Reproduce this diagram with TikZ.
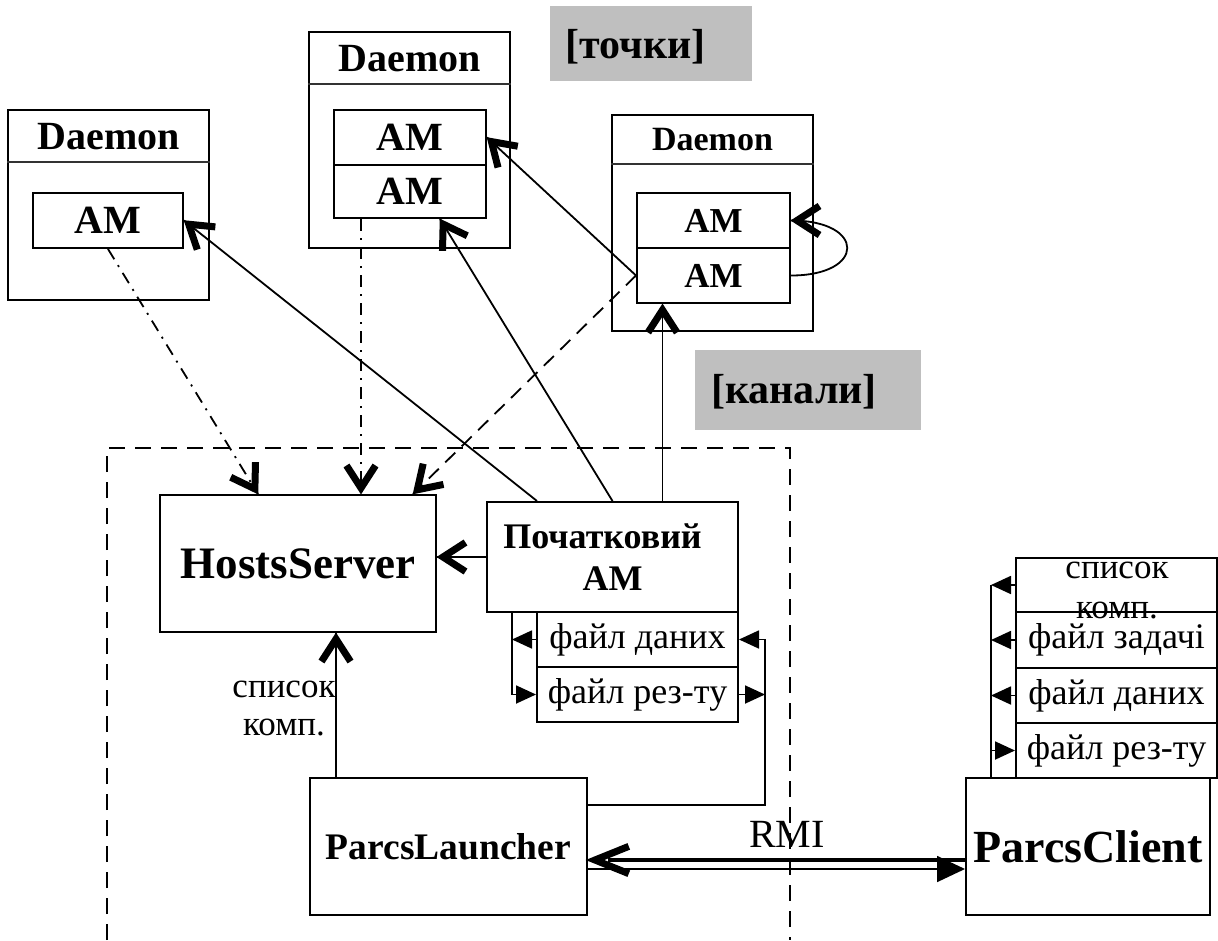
\documentclass[tikz,border=0pt]{standalone}
\usepackage{fontspec}
\setmainfont{Liberation Serif}
\usetikzlibrary{arrows.meta,calc}

% thick open V head: #1 = a point behind the head, #2 = the tip
\newcommand{\drawV}[2]{%
  \draw[vstroke] ($(#2)!32pt!27:(#1)$) -- ($(#2)!6pt!(#1)$) -- ($(#2)!32pt!-27:(#1)$);}
\newcommand{\drawVlong}[2]{%
  \draw[vstroke] ($(#2)!43pt!18.5:(#1)$) -- ($(#2)!7pt!(#1)$) -- ($(#2)!43pt!-18.5:(#1)$);}

\begin{document}
\begin{tikzpicture}[x=1pt,y=-1pt,
  box/.style={draw,line width=2pt,inner sep=0pt,align=center},
  bfz/.style={font=\fontsize{#1}{#1}\selectfont\bfseries},
  rmz/.style={font=\fontsize{#1}{#1}\selectfont},
  hdr/.style={line width=1.5pt,black!80},
  conn/.style={line width=1.8pt},
  dsh/.style={line width=1.8pt,dash pattern=on 14pt off 9pt},
  ddot/.style={line width=1.8pt,dash pattern=on 12pt off 7pt on 2pt off 7pt},
  frame/.style={line width=1.8pt,dash pattern=on 16pt off 10pt},
  tag/.style={fill=black!25,inner sep=0pt},
  vstroke/.style={line width=7pt,miter limit=10,solid},
  fillT/.tip={Triangle[length=20pt,width=18pt]},
  bigT/.tip={Triangle[length=28pt,width=26pt]}]

\useasboundingbox (0,0) rectangle (1218,940);

% ---- daemons -------------------------------------------------------
\node[box,minimum width=201pt,minimum height=190pt] (dL) at (108.5,205) {};
\node[bfz=40pt] (dLt) at (108.5,137) {Daemon};
\draw[hdr] ([yshift=-53pt]dL.north west) -- ([yshift=-53pt]dL.north east);
\node[box,bfz=40pt,minimum width=150pt,minimum height=55pt] (amL) at (108,220.5) {AM};

\node[box,minimum width=201pt,minimum height=216pt] (dM) at (409.5,140) {};
\node[bfz=40pt] (dMt) at (409.5,59) {Daemon};
\draw[hdr] ([yshift=-53pt]dM.north west) -- ([yshift=-53pt]dM.north east);
\node[box,bfz=40pt,minimum width=152pt,minimum height=55pt] (amM1) at (410,137.5) {AM};
\node[box,bfz=40pt,minimum width=152pt,minimum height=53pt] (amM2) at (410,191.5) {AM};

\node[box,minimum width=201pt,minimum height=216pt] (dR) at (712.5,223) {};
\node[bfz=34pt] (dRt) at (712.5,140) {Daemon};
\draw[hdr] ([yshift=-50pt]dR.north west) -- ([yshift=-50pt]dR.north east);
\node[box,bfz=35pt,minimum width=153pt,minimum height=55pt] (amR1) at (713.5,220.5) {AM};
\node[box,bfz=35pt,minimum width=153pt,minimum height=55pt] (amR2) at (713.5,275.5) {AM};

% ---- grey tags -------------------------------------------------------
\node[tag,minimum width=202pt,minimum height=75pt] (tpts) at (651,43.5) {};
\node[bfz=42pt] (tptsl) at (635.5,47) {[точки]};
\node[tag,minimum width=226pt,minimum height=80pt] (tkan) at (808,390) {};
\node[bfz=42pt] (tkanl) at (794,392) {[канали]};

% ---- launcher side frame ----------------------------------------------
\draw[frame] (107,940) -- (107,448) -- (790,448) -- (790,940);

% ---- servers and clients -------------------------------------------
\node[box,bfz=45pt,minimum width=276pt,minimum height=137pt] (hs) at (298,563.5) {HostsServer};
\node[box,font=\fontsize{36}{42}\selectfont\bfseries,minimum width=251pt,minimum height=110pt] (poch) at (612.5,557) {Початковий\hspace*{20pt}\\AM};
\node[box,rmz=36pt,minimum width=201pt,minimum height=55pt] (fd1) at (637.5,639.5) {файл даних};
\node[box,rmz=36pt,minimum width=201pt,minimum height=55pt] (fd2) at (637.5,694.5) {файл рез-ту};
\node[font=\fontsize{35}{38}\selectfont,align=center] (lst) at (284,708) {список\\комп.};

\node[box,bfz=37.5pt,minimum width=277pt,minimum height=137pt] (pl) at (448.5,846.5) {ParcsLauncher};
\node[box,bfz=46pt,minimum width=244pt,minimum height=137pt] (pc) at (1088,846.5) {ParcsClient};

\node[box,minimum width=201pt,minimum height=54pt] (cf1) at (1116.5,585) {};
\node[font=\fontsize{35}{40}\selectfont,align=center] (cf1t) at (1117,590.5) {список\\комп.};
\node[box,rmz=36pt,minimum width=201pt,minimum height=56pt] (cf2) at (1116.5,640) {файл задачі};
\node[box,rmz=36pt,minimum width=201pt,minimum height=55pt] (cf3) at (1116.5,695.5) {файл даних};
\node[box,rmz=36pt,minimum width=201pt,minimum height=55pt] (cf4) at (1116.5,750.5) {файл рез-ту};

\node[rmz=40pt] (rmi) at (787,834.5) {RMI};

% ---- end points of the connectors ------------------------------------------
\coordinate (p1) at ([xshift=-75.5pt]poch.north);
\coordinate (e2) at ([xshift=30pt]amM2.south);
\coordinate (p3) at ([xshift=50pt]poch.north);
\coordinate (e3) at (p3 |- amR2.south);
\coordinate (e4) at (poch.west -| hs.east);
\coordinate (e5) at ([xshift=115pt]hs.north);
\coordinate (e6) at ([xshift=63pt]hs.north);
\coordinate (s6) at (e6 |- amM2.south);
\coordinate (e7) at ([xshift=-40pt]hs.north);
\coordinate (plup) at ([xshift=-112.5pt]pl.north);
\coordinate (e8) at (plup |- hs.south);
\coordinate (ctl) at ([xshift=75pt]amR1.east);

% ---- links from the initial AM ------------------------------------------
\draw[conn] (p1) -- (amL.east);            \drawV{p1}{amL.east}
\draw[conn] (poch.north) -- (e2);          \drawV{poch.north}{e2}
\draw[conn] (p3) -- (e3);                  \drawV{p3}{e3}
\draw[conn] (poch.west) -- (e4);           \drawV{poch.west}{e4}

% ---- links between daemons -------------------------------------------
\draw[conn] (amR2.west) -- (amM1.east);    \drawV{amR2.west}{amM1.east}
\draw[conn] (amR2.east) .. controls +(75,0) and (ctl) .. (amR1.east);
\drawV{ctl}{amR1.east}

% ---- registration with the hosts server --------------------------------
\draw[dsh] (amR2.west) -- (e5);            \drawV{amR2.west}{e5}
\draw[ddot] (s6) -- (e6);                  \drawV{s6}{e6}
\draw[ddot] (amL.south) -- (e7);           \drawV{amL.south}{e7}
\draw[conn] (plup) -- (e8);                \drawV{plup}{e8}

% ---- RMI ----------------------------------------------------------------
\coordinate (r1) at ([yshift=-13.5pt]pc.west);
\coordinate (r2) at (r1 -| pl.east);
\draw[line width=4pt] (r1) -- ([xshift=20pt]r2);
\drawVlong{r1}{r2}
\draw[conn,-bigT] ([yshift=-22.5pt]pc.west -| pl.east) -- ([yshift=-22.5pt]pc.west);

% ---- file exchange of the initial AM -------------------------------------
\coordinate (lx) at ([xshift=-100.5pt]poch.south);
\draw[conn,-fillT] (lx) |- (fd2.west);
\draw[conn,-fillT] (fd1.west) -- (fd1.west -| lx);
\coordinate (rx) at ([xshift=26pt]fd1.east);
\draw[conn,-fillT] ([yshift=41.5pt]pl.east) -| (rx) -- (fd1.east);
\draw[conn,-fillT] (fd2.east) -- (fd2.east -| rx);

% ---- file exchange of the client ----------------------------------------
\coordinate (cx) at ([xshift=-97pt]pc.north);
\draw[conn] (cx) -- (cx |- cf1.west);
\draw[conn,-fillT] (cf1.west) -- (cf1.west -| cx);
\draw[conn,-fillT] (cf2.west) -- (cf2.west -| cx);
\draw[conn,-fillT] (cf3.west) -- (cf3.west -| cx);
\draw[conn,-fillT] (cf4.west -| cx) -- (cf4.west);
\end{tikzpicture}
\end{document}
